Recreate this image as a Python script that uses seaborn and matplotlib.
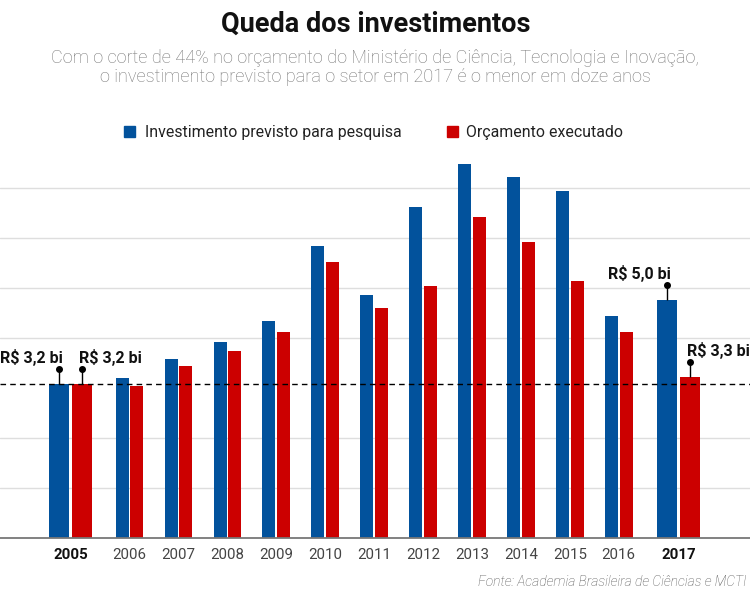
import matplotlib
matplotlib.use("Agg")
import matplotlib.pyplot as plt
from matplotlib.patches import Rectangle
import seaborn as sns
import pandas as pd
import numpy as np

# ---------------- data ----------------
anos = [2005, 2006, 2007, 2008, 2009, 2010, 2011, 2012, 2013, 2014, 2015, 2016, 2017]
investimento_previsto = [3.20, 3.33, 3.73, 4.07, 4.51, 6.06, 5.05, 6.87, 7.76, 7.50, 7.21, 4.61, 4.95]
orcamento_executado = [3.20, 3.15, 3.57, 3.89, 4.28, 5.73, 4.78, 5.23, 6.67, 6.15, 5.34, 4.29, 3.35]
series = ["Investimento previsto para pesquisa", "Orçamento executado"]
destaques = ["R$ 3,2 bi", "R$ 3,2 bi", "R$ 5,0 bi", "R$ 3,3 bi"]
titulo = "Queda dos investimentos"
subtitulo = ("Com o corte de 44% no orçamento do Ministério de Ciência, Tecnologia e Inovação,\n"
             "o investimento previsto para o setor em 2017 é o menor em doze anos")
fonte = "Fonte: Academia Brasileira de Ciências e MCTI"

# ---------------- style ----------------
sns.set_theme(style="white")
plt.rcParams["font.family"] = ["Roboto", "DejaVu Sans"]
AZUL = "#02529c"
VERMELHO = "#cc0000"

W, H = 750, 592
fig = plt.figure(figsize=(W / 100, H / 100), dpi=100)
fig.patch.set_facecolor("white")

BASE_PX, TOP_PX = 538.3, 150.0
PX_PER_BI = 48.2
ax = fig.add_axes([0, 1 - BASE_PX / H, 1, (BASE_PX - TOP_PX) / H])

def px2bi(p):
    return p / PX_PER_BI

# layout: x positions of year groups (pixel units on the x axis)
n = len(anos)
centers = []
for i, a in enumerate(anos):
    if i == 0:
        centers.append(70.5)
    elif i == n - 1:
        centers.append(678.7)
    else:
        centers.append(129.5 + (i - 1) * 48.92)
centers = np.array(centers)

df = pd.DataFrame({
    "pos": np.concatenate([centers, centers]),
    "valor": investimento_previsto + orcamento_executado,
    "serie": [series[0]] * n + [series[1]] * n,
})

sns.barplot(data=df, x="pos", y="valor", hue="serie", hue_order=series,
            palette=[AZUL, VERMELHO], native_scale=True, legend=False,
            ax=ax, saturation=1, linewidth=0)

# adjust geometry: wider bars for 2005 and 2017
for h, cont in enumerate(ax.containers):
    sign = -1 if h == 0 else 1
    for p in cont.patches:
        cx = p.get_x() + p.get_width() / 2
        i = int(np.argmin(np.abs(centers - cx)))
        if i in (0, n - 1):
            w, off = 20.0, 11.5
        else:
            w, off = 13.0, 7.3
        p.set_width(w)
        p.set_x(centers[i] + sign * off - w / 2)

ax.set_xlim(0, W)
ax.set_ylim(0, px2bi(BASE_PX - TOP_PX))

# gridlines
for k in [1, 2, 4, 5, 6, 7]:
    ax.axhline(px2bi(50 * k), color="#dedede", lw=1.0, zorder=0)
ax.axhline(0, color="#777777", lw=1.3, zorder=3, clip_on=False)
ax.axhline(investimento_previsto[0], color="black", lw=1.0,
           linestyle=(0, (4, 3)), zorder=4)

for s in ax.spines.values():
    s.set_visible(False)
ax.set_yticks([])
ax.set_xticks(centers)
ax.set_xticklabels([str(a) for a in anos])
ax.tick_params(axis="x", length=0, pad=7, labelsize=10.8, labelcolor="#444444")
for i, lab in enumerate(ax.get_xticklabels()):
    if i in (0, n - 1):
        lab.set_fontweight("bold")
        lab.set_color("#111111")
ax.set_xlabel("")
ax.set_ylabel("")

# pin annotations
def pin(x, v, txt, ha, dx):
    top = v + px2bi(15)
    ax.plot([x, x], [v, top], color="black", lw=1.0, zorder=5, solid_capstyle="butt")
    ax.plot([x], [top], "o", color="black", ms=4, zorder=6)
    ax.text(x + dx, top + px2bi(6), txt, ha=ha, va="baseline",
            fontsize=11.5, fontweight="bold", color="#111111", zorder=6)

pin(centers[0] - 11.5, investimento_previsto[0], destaques[0], "right", 4)
pin(centers[0] + 11.5, orcamento_executado[0], destaques[1], "left", -3)
pin(centers[-1] - 11.5, investimento_previsto[-1], destaques[2], "right", 4)
pin(centers[-1] + 11.5, orcamento_executado[-1], destaques[3], "left", -3)

# header
def fx(p): return p / W
def fy(p): return 1 - p / H

fig.text(fx(376), fy(32), titulo, ha="center", va="baseline",
         fontsize=19.5, fontweight="bold", color="#111111")
fig.text(fx(375), fy(63), subtitulo.split("\n")[0], ha="center", va="baseline",
         fontsize=13.1, fontweight="light", color="#777777")
fig.text(fx(375), fy(82.5), subtitulo.split("\n")[1], ha="center", va="baseline",
         fontsize=13.1, fontweight="light", color="#777777")

# legend
fig.patches.append(Rectangle((fx(124), fy(137)), 11 / W, 11 / H,
                             transform=fig.transFigure, color=AZUL))
fig.text(fx(145), fy(137), series[0], ha="left", va="baseline",
         fontsize=11.4, color="#222222")
fig.patches.append(Rectangle((fx(447), fy(137)), 11 / W, 11 / H,
                             transform=fig.transFigure, color=VERMELHO))
fig.text(fx(466), fy(137), series[1], ha="left", va="baseline",
         fontsize=11.4, color="#222222")

# source
fig.text(fx(746), fy(586.5), fonte, ha="right", va="baseline",
         fontsize=10, fontstyle="italic", fontweight="light", color="#555555")

fig.savefig("out.png", dpi=100, facecolor="white")
